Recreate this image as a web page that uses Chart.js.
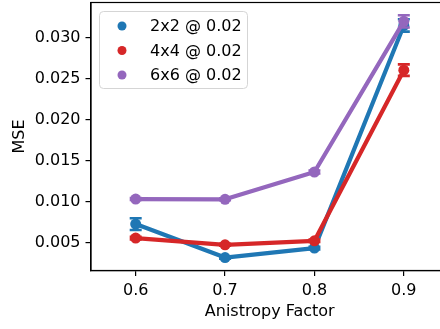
<!DOCTYPE html>
<html>
<head>
<meta charset="utf-8">
<script src="https://cdn.jsdelivr.net/npm/chart.js@4/dist/chart.umd.min.js"></script>
<style>
  html, body { margin: 0; padding: 0; background: #fff; overflow: hidden; }
  #wrap { width: 454px; height: 332px; margin-top: -3px; }
</style>
</head>
<body>
<div id="wrap"><canvas id="c" width="454" height="332"></canvas></div>
<script>
// ---- data ----
const categories = ['0.6', '0.7', '0.8', '0.9'];
const seriesNames = ['2x2 @ 0.02', '4x4 @ 0.02', '6x6 @ 0.02'];
const mse2x2 = [0.00728, 0.00320, 0.00435, 0.03150];
const err2x2 = [0.00072, 0.00015, 0.00015, 0.00075];
const mse4x4 = [0.00557, 0.00475, 0.00524, 0.02605];
const err4x4 = [0.00015, 0.00012, 0.00015, 0.00070];
const mse6x6 = [0.01033, 0.01030, 0.01363, 0.03200];
const err6x6 = [0.00012, 0.00012, 0.00018, 0.00075];
const yTickValues = [0.005, 0.010, 0.015, 0.020, 0.025, 0.030];

const colors = ['#1f77b4', '#d62728', '#9467bd'];
const FONT = '"DejaVu Sans", sans-serif';
const FS = 16;
const SHIFT = 3; // canvas is shifted up by this many px via CSS

const errorBars = {
  id: 'errorBars',
  afterDatasetDraw(chart, args) {
    const ds = chart.data.datasets[args.index];
    if (!ds.errors) return;
    const y = chart.scales.y;
    const ctx = chart.ctx;
    const meta = args.meta;
    ctx.save();
    ctx.strokeStyle = ds.borderColor;
    ctx.lineWidth = 2.6;
    meta.data.forEach((pt, i) => {
      const v = ds.data[i], e = ds.errors[i];
      const y1 = y.getPixelForValue(v + e), y2 = y.getPixelForValue(v - e);
      const x = pt.x;
      ctx.beginPath();
      ctx.moveTo(x, y1); ctx.lineTo(x, y2);
      ctx.moveTo(x - 6, y1); ctx.lineTo(x + 6, y1);
      ctx.moveTo(x - 6, y2); ctx.lineTo(x + 6, y2);
      ctx.stroke();
    });
    ctx.restore();
  }
};

const frameAndLegend = {
  id: 'frameAndLegend',
  afterDraw(chart) {
    const ctx = chart.ctx;
    const a = chart.chartArea;
    ctx.save();
    ctx.strokeStyle = '#000';
    ctx.lineWidth = 1.2;
    ctx.strokeRect(a.left, a.top, a.right - a.left, a.bottom - a.top);
    // legend
    const lx = 99.5, ly = 11.5 + SHIFT, lw = 148, lh = 77, r = 4;
    ctx.beginPath();
    ctx.moveTo(lx + r, ly);
    ctx.arcTo(lx + lw, ly, lx + lw, ly + lh, r);
    ctx.arcTo(lx + lw, ly + lh, lx, ly + lh, r);
    ctx.arcTo(lx, ly + lh, lx, ly, r);
    ctx.arcTo(lx, ly, lx + lw, ly, r);
    ctx.closePath();
    ctx.fillStyle = 'rgba(255,255,255,0.8)';
    ctx.fill();
    ctx.strokeStyle = '#d5d5d5';
    ctx.lineWidth = 1;
    ctx.stroke();
    ctx.font = FS + 'px ' + FONT;
    ctx.textBaseline = 'middle';
    ctx.textAlign = 'left';
    seriesNames.forEach((name, i) => {
      const yy = 26 + SHIFT + i * 24.5;
      ctx.fillStyle = colors[i];
      ctx.beginPath();
      ctx.arc(122, yy, 4.5, 0, Math.PI * 2);
      ctx.fill();
      ctx.fillStyle = '#000';
      ctx.fillText(name, 150, yy + 1);
    });
    ctx.restore();
  }
};

const seriesData = [mse2x2, mse4x4, mse6x6];
const seriesErr = [err2x2, err4x4, err6x6];
const datasets = seriesNames.map((n, i) => ({
  label: n,
  data: seriesData[i],
  errors: seriesErr[i],
  borderColor: colors[i],
  backgroundColor: colors[i],
  pointBackgroundColor: colors[i],
  pointBorderWidth: 0,
  pointRadius: 5.5,
  borderWidth: 4.2,
  borderJoinStyle: 'round',
  borderCapStyle: 'round',
  tension: 0,
  order: 3 - i
}));

new Chart(document.getElementById('c'), {
  type: 'line',
  data: { labels: categories, datasets },
  plugins: [errorBars, frameAndLegend],
  options: {
    responsive: false,
    animation: false,
    layout: { padding: { top: 0.5, right: 1.5, left: 0, bottom: 0 } },
    plugins: { legend: { display: false }, tooltip: { enabled: false } },
    scales: {
      x: {
        type: 'category',
        offset: true,
        afterFit(s) { s.height = 58.5; s.paddingLeft = 0; s.paddingRight = 0; },
        grid: { drawOnChartArea: false, drawTicks: true, tickLength: 5.5, color: '#000', lineWidth: 1.2 },
        border: { display: true, color: '#000', width: 1.2 },
        ticks: { color: '#000', font: { family: FONT, size: FS }, padding: 5, maxRotation: 0 },
        title: { display: true, text: 'Anistropy Factor', color: '#000', font: { family: FONT, size: FS }, padding: { top: 0, bottom: 8 } }
      },
      y: {
        type: 'linear',
        min: 0.00162,
        max: 0.0343,
        afterFit(s) { s.width = 91; s.paddingTop = 0; s.paddingBottom = 0; },
        afterBuildTicks(s) { s.ticks = yTickValues.map(v => ({ value: v })); },
        grid: { drawOnChartArea: false, drawTicks: true, tickLength: 5.5, color: '#000', lineWidth: 1.2 },
        border: { display: true, color: '#000', width: 1.2 },
        ticks: { color: '#000', font: { family: FONT, size: FS }, padding: 5, callback: v => Number(v).toFixed(3) },
        title: { display: true, text: 'MSE', color: '#000', font: { family: FONT, size: FS }, padding: { top: 10, bottom: 0 } }
      }
    }
  }
});
</script>
</body>
</html>
